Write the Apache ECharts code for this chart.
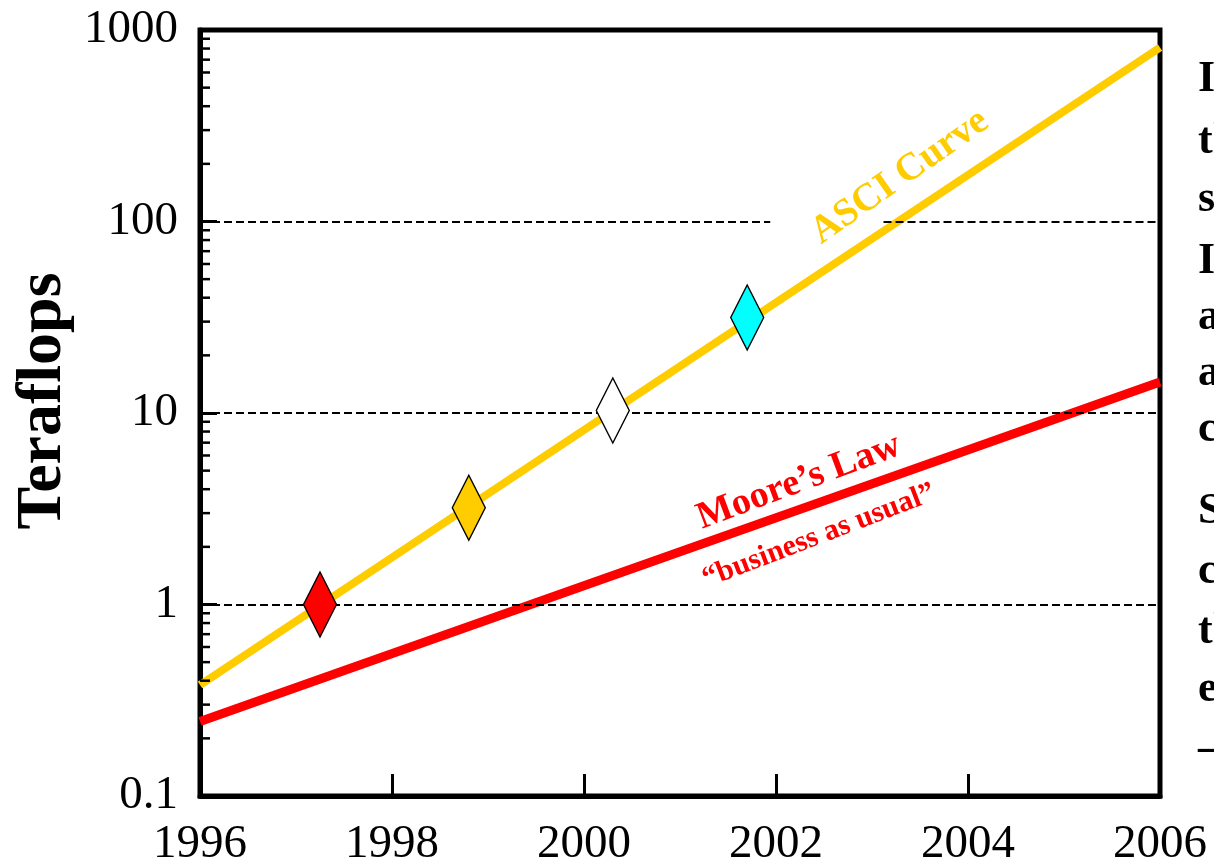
<!DOCTYPE html>
<html>
<head>
<meta charset="utf-8">
<script src="https://cdn.jsdelivr.net/npm/echarts@6/dist/echarts.min.js"></script>
<style>html,body{margin:0;padding:0;background:#fff;}#c{width:1214px;height:865px;}</style>
</head>
<body>
<div id="c"></div>
<script>
// ---- data ----
const lineYears = [1996, 2006];
const asciCurve = [0.38, 810];
const mooresLaw = [0.245, 14.5];
const machineYears = [1997.25, 1998.8, 2000.3, 2001.7];
const machineTflops = [1.0, 3.2, 10.3, 31.5];
const machineColors = ['#FF0000', '#FFCC00', '#FFFFFF', '#00FFFF'];
const xTicks = [1996, 1998, 2000, 2002, 2004, 2006];
const yTicks = [0.1, 1, 10, 100, 1000];
const minorTicks = [0.2,0.3,0.4,0.5,0.6,0.7,0.8,0.9,2,3,4,5,6,7,8,9,20,30,40,50,60,70,80,90,200,300,400,500,600,700,800,900];
const gridLevels = [1, 10];
const sideText = ['In', 'the', 'sys', 'In', 'an', 'an', 'co', 'Sc', 'co', 'th', 'ex', '–'];

const serif = '"Liberation Serif", "Times New Roman", Times, serif';
const chart = echarts.init(document.getElementById('c'), null, {renderer: 'canvas'});

const gridLines = gridLevels.map(v => [{coord: [1996, v]}, {coord: [2006, v]}]);
gridLines.push([{coord: [1996, 100]}, {coord: [2001.94, 100]}]);
gridLines.push([{coord: [2003.12, 100]}, {coord: [2006, 100]}]);

const graphics = [
  {type: 'text', x: 43, y: 401, rotation: Math.PI / 2, z: 10,
   style: {text: 'Teraflops', fill: '#000', font: 'bold 64px ' + serif, align: 'center', verticalAlign: 'middle'}},
  {type: 'text', x: 900, y: 177, rotation: 35 * Math.PI / 180, z: 10,
   style: {text: 'ASCI Curve', fill: '#FFCC00', font: 'bold 39px ' + serif, align: 'center', verticalAlign: 'middle'}},
  {type: 'text', x: 799, y: 482, rotation: 20.5 * Math.PI / 180, z: 10,
   style: {text: 'Moore\u2019s Law', fill: '#FF0000', font: 'bold 38px ' + serif, align: 'center', verticalAlign: 'middle'}},
  {type: 'text', x: 819, y: 536, rotation: 21 * Math.PI / 180, z: 10,
   style: {text: '\u201Cbusiness as usual\u201D', fill: '#FF0000', font: 'bold 30px ' + serif, align: 'center', verticalAlign: 'middle'}}
];
const sideY = [80, 142, 200, 262, 318, 374, 430, 512, 572, 632, 690, 750];
sideText.forEach((t, i) => {
  graphics.push({type: 'text', x: 1198, y: sideY[i], z: 10,
    style: {text: t, fill: '#000', font: 'bold 44px ' + serif, align: 'left', verticalAlign: 'middle'}});
});

chart.setOption({
  animation: false,
  backgroundColor: '#fff',
  grid: {left: 200, right: 54, top: 30, bottom: 69, outerBoundsMode: 'none', containLabel: false,
    show: true, borderColor: '#000', borderWidth: 5, backgroundColor: 'transparent'},
  xAxis: {
    type: 'value', min: 1996, max: 2006, interval: 2,
    axisLine: {show: true, lineStyle: {color: '#000', width: 5}},
    axisTick: {show: true, inside: true, length: 22, lineStyle: {color: '#000', width: 3}},
    axisLabel: {color: '#000', fontFamily: serif, fontSize: 47, margin: 25, formatter: v => String(v)},
    splitLine: {show: false}
  },
  yAxis: {
    type: 'log', logBase: 10, min: 0.1, max: 1000,
    axisLine: {show: true, lineStyle: {color: '#000', width: 5}},
    axisTick: {show: true, inside: true, length: 17, lineStyle: {color: '#000', width: 3}},
    axisLabel: {color: '#000', fontFamily: serif, fontSize: 47, margin: 22,
      formatter: v => { const r = yTicks.find(t => Math.abs(t - v) / t < 1e-6); return r !== undefined ? String(r) : ''; }},
    splitLine: {show: false}
  },
  graphic: graphics,
  series: [
    {
      type: 'custom', silent: true, z: 5, clip: false,
      data: minorTicks.map(v => [1996, v]),
      renderItem: (params, api) => {
        const p = api.coord([api.value(0), api.value(1)]);
        return {type: 'line', shape: {x1: p[0], y1: p[1], x2: p[0] + 10, y2: p[1]},
          style: {stroke: '#000', lineWidth: 2.5}};
      }
    },
    {
      type: 'line', name: 'grid', data: [], silent: true, z: 1,
      markLine: {silent: true, symbol: 'none', label: {show: false},
        lineStyle: {color: '#000', width: 2, type: [8, 4]}, data: gridLines}
    },
    {
      type: 'line', name: 'ASCI Curve', z: 3, symbol: 'none',
      lineStyle: {color: '#FFCC00', width: 8},
      data: lineYears.map((y, i) => [y, asciCurve[i]])
    },
    {
      type: 'line', name: 'Moore\u2019s Law', z: 3, symbol: 'none',
      lineStyle: {color: '#FF0000', width: 9},
      data: lineYears.map((y, i) => [y, mooresLaw[i]])
    },
    {
      type: 'scatter', name: 'Machines', z: 6, symbol: 'diamond', symbolSize: [33, 65],
      data: machineYears.map((y, i) => ({value: [y, machineTflops[i]],
        itemStyle: {color: machineColors[i], borderColor: '#000', borderWidth: 1.5, opacity: 1}}))
    }
  ]
});
</script>
</body>
</html>
